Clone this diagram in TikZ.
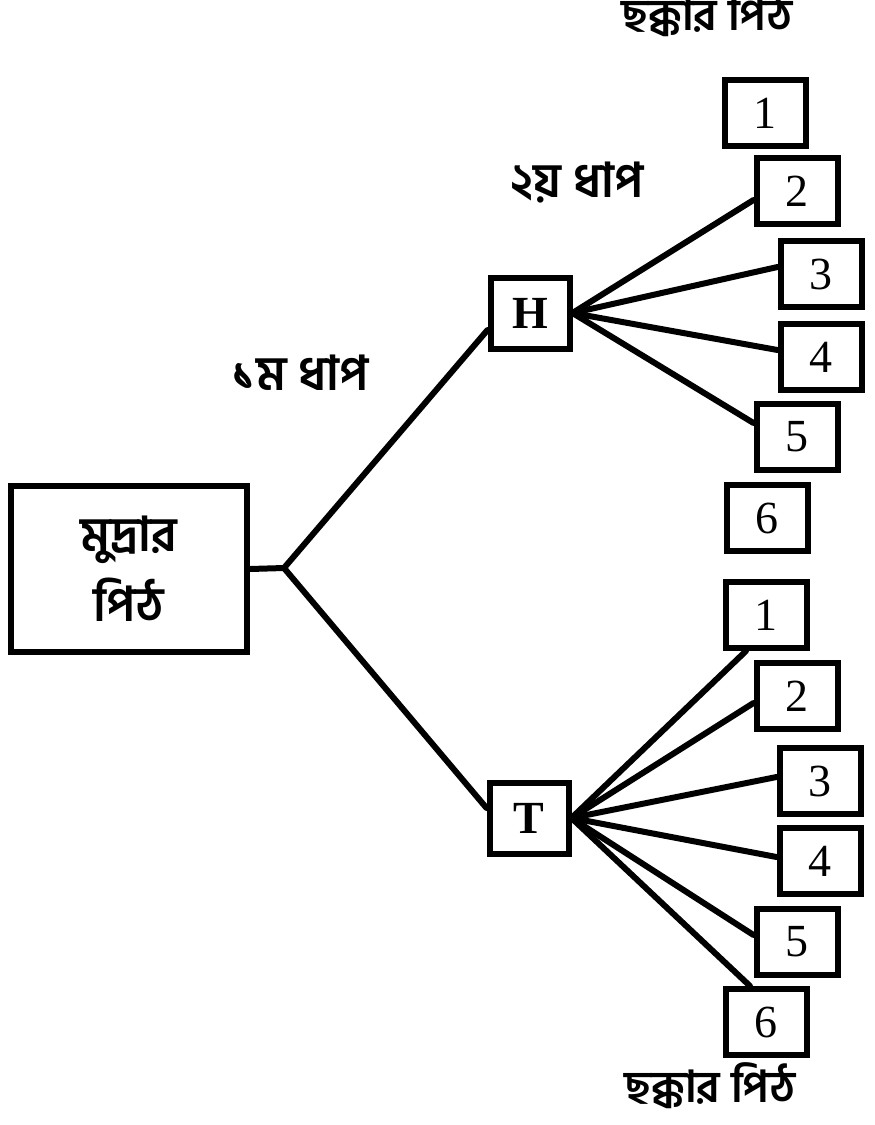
\documentclass[tikz,border=0pt]{standalone}
\usepackage{fontspec}
\setmainfont{Liberation Serif}
\newfontfamily\bn[Script=Bengali]{Hind Siliguri}
\begin{document}
\begin{tikzpicture}[x=1pt,y=-1pt,
  numbox/.style={draw, line width=6pt, minimum width=81pt, minimum height=66pt, inner sep=0pt,
    font=\fontsize{46}{46}\selectfont},
  letbox/.style={draw, line width=6pt, minimum width=79pt, minimum height=71pt, inner sep=0pt,
    font=\bfseries\fontsize{46}{46}\selectfont},
  mainbox/.style={draw, line width=6pt, minimum width=236pt, minimum height=166pt, inner sep=0pt,
    align=center, font=\bn\bfseries\fontsize{48}{70}\selectfont},
  lbl/.style={font=\bn\bfseries\fontsize{48}{48}\selectfont, inner sep=0pt},
  toplbl/.style={font=\bn\bfseries\fontsize{44}{44}\selectfont, inner sep=0pt},
  link/.style={line width=6pt, line cap=round, line join=round}]
\useasboundingbox (0,0) rectangle (875,1125);

% main box
\node[mainbox] (main) at (129,569) {মুদ্রার\\পিঠ};
\coordinate (fork) at (284,568);

% first stage
\node[letbox] (H) at (530,313) {H};
\node[letbox] (T) at (529,818) {T};

% H children
\node[numbox] (h1) at (765,113) {1};
\node[numbox] (h2) at (797,191) {2};
\node[numbox] (h3) at (821,274) {3};
\node[numbox] (h4) at (821,357) {4};
\node[numbox] (h5) at (797,437) {5};
\node[numbox] (h6) at (767,518) {6};

% T children
\node[numbox] (t1) at (766,615) {1};
\node[numbox] (t2) at (797,696) {2};
\node[numbox] (t3) at (820,781) {3};
\node[numbox] (t4) at (820,861) {4};
\node[numbox] (t5) at (797,942) {5};
\node[numbox] (t6) at (766,1022) {6};

% labels
\node[toplbl] (top) at (707,14) {ছক্কার পিঠ};
\node[toplbl] (bot) at (710,1086) {ছক্কার পিঠ};
\node[lbl] (s1) at (300,373) {১ম ধাপ};
\node[lbl] (s2) at (577,183) {২য় ধাপ};

% connectors
\draw[link] (main.east) -- (fork);
\draw[link] (fork) -- ([yshift=-17pt]H.west);
\draw[link] (fork) -- ([yshift=10pt]T.west);

\draw[link] (H.east) -- ([yshift=-9pt]h2.west);
\draw[link] (H.east) -- ([yshift=7pt]h3.west);
\draw[link] (H.east) -- ([yshift=7pt]h4.west);
\draw[link] (H.east) -- ([yshift=14pt]h5.west);

\draw[link] (T.east) -- ([xshift=-20pt]t1.south);
\draw[link] (T.east) -- ([yshift=-7pt]t2.west);
\draw[link] (T.east) -- ([yshift=4pt]t3.west);
\draw[link] (T.east) -- ([yshift=4pt]t4.west);
\draw[link] (T.east) -- ([yshift=7pt]t5.west);
\draw[link] (T.east) -- ([xshift=-16pt]t6.north);
\end{tikzpicture}
\end{document}
